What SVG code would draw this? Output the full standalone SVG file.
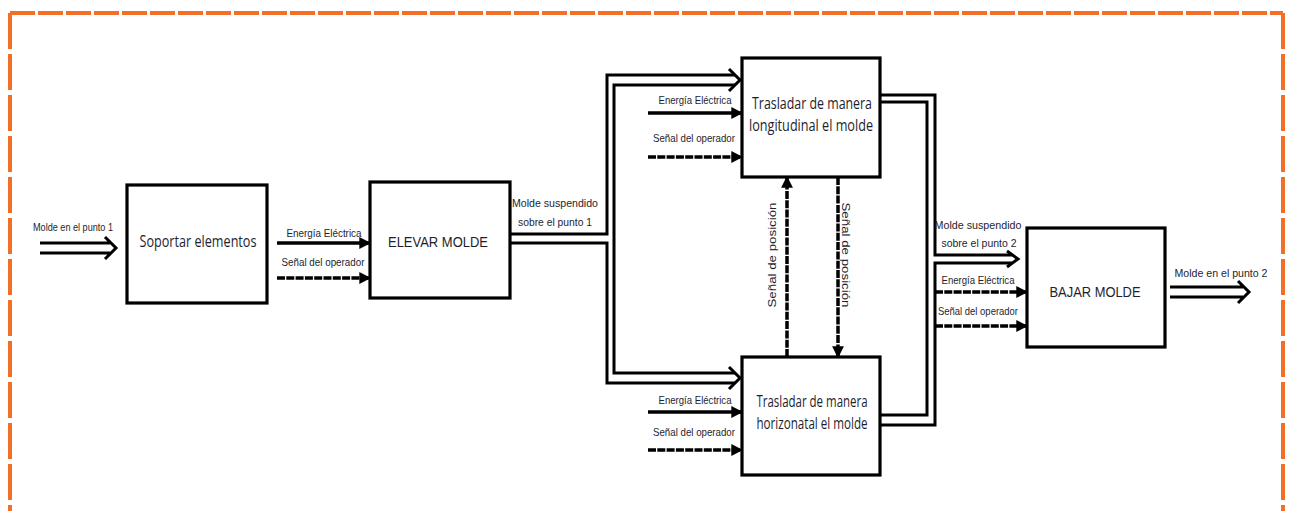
<svg xmlns="http://www.w3.org/2000/svg" width="1290" height="511" viewBox="0 0 1290 511">
  <style>
    .frame { fill: none; stroke: #f26f27; stroke-width: 4; }
    .box { fill: #ffffff; stroke: #000000; stroke-width: 3.2; }
    .dbl { fill: none; stroke: #000000; stroke-width: 3; stroke-linejoin: miter; }
    .solid { fill: none; stroke: #000000; stroke-width: 3.5; }
    .dash { fill: none; stroke: #000000; stroke-width: 3.5; stroke-dasharray: 8 1.3; }
    .lbl { font-family: "Liberation Sans", Arial, sans-serif; font-size: 10.5px; fill: #1e1e2e; }
    .title { font-family: "Liberation Sans", Arial, sans-serif; font-size: 15px; fill: #1e1e2e; }
    .ctitle { font-family: "Open Sans", "Noto Sans", sans-serif; font-size: 15.5px; fill: #1e1e2e; }
  </style>
  <defs>
    <marker id="head" viewBox="0 0 10 10" refX="9" refY="5" markerWidth="3.4" markerHeight="3.4" orient="auto" markerUnits="strokeWidth">
      <path d="M0,0 L10,5 L0,10 Z" fill="#000000"/>
    </marker>
  </defs>

  <!-- dashed orange frame -->
  <g id="frame">
    <path class="frame" d="M10,13 H1283" stroke-dasharray="25 3"/>
    <path class="frame" d="M10,13 V511" stroke-dasharray="36 5"/>
    <path class="frame" d="M1283,13 V511" stroke-dasharray="36 5"/>
  </g>

  <!-- connectors -->
  <g id="connectors">
    <!-- Molde en el punto 1 -->
    <path class="dbl" d="M40,243 H110 M40,253 H110 M105,237 L116,248 L105,259"/>
    <!-- ELEVAR -> branch to both Trasladar blocks -->
    <path class="dbl" d="M510,234 H607 V75 H735"/>
    <path class="dbl" d="M510,243 H607 V383 H735"/>
    <path class="dbl" d="M735,85 H614 V373 H735"/>
    <path class="dbl" d="M729,69 L740,80 L729,91"/>
    <path class="dbl" d="M729,367 L740,378 L729,389"/>
    <!-- Trasladar blocks -> BAJAR MOLDE -->
    <path class="dbl" d="M880,95 H935 V255 H1012"/>
    <path class="dbl" d="M880,102 H927 V415 H880"/>
    <path class="dbl" d="M1012,263 H935 V425 H880"/>
    <path class="dbl" d="M1007,251 L1018,259 L1007,267"/>
    <!-- Molde en el punto 2 -->
    <path class="dbl" d="M1170,287 H1243 M1170,297 H1243 M1238,281 L1249,292 L1238,303"/>

    <!-- inputs to ELEVAR MOLDE -->
    <path class="solid" d="M277,243 H370" marker-end="url(#head)"/>
    <path class="dash" d="M277,278 H370" marker-end="url(#head)"/>
    <!-- inputs to longitudinal block -->
    <path class="solid" d="M648,113 H742" marker-end="url(#head)"/>
    <path class="dash" d="M648,157 H742" marker-end="url(#head)"/>
    <!-- inputs to horizontal block -->
    <path class="solid" d="M648,412 H742" marker-end="url(#head)"/>
    <path class="dash" d="M648,450 H742" marker-end="url(#head)"/>
    <!-- inputs to BAJAR MOLDE -->
    <path class="dash" d="M935,292 H1027" marker-end="url(#head)"/>
    <path class="dash" d="M935,326 H1027" marker-end="url(#head)"/>
    <!-- position signals between the two Trasladar blocks -->
    <path class="dash" d="M787,357 V177" marker-end="url(#head)"/>
    <path class="dash" d="M838,177 V357" marker-end="url(#head)"/>
  </g>

  <!-- connector labels -->
  <g id="labels">
    <text class="lbl" x="73" y="231" text-anchor="middle" textLength="80" lengthAdjust="spacingAndGlyphs">Molde en el punto 1</text>
    <text class="lbl" x="324" y="237" text-anchor="middle" textLength="75" lengthAdjust="spacingAndGlyphs">Energía Eléctrica</text>
    <text class="lbl" x="323" y="266" text-anchor="middle" textLength="83" lengthAdjust="spacingAndGlyphs">Señal del operador</text>
    <text class="lbl" x="555" y="207" text-anchor="middle" textLength="86" lengthAdjust="spacingAndGlyphs">Molde suspendido</text>
    <text class="lbl" x="555" y="226" text-anchor="middle" textLength="74" lengthAdjust="spacingAndGlyphs">sobre el punto 1</text>
    <text class="lbl" x="695" y="104" text-anchor="middle" textLength="73" lengthAdjust="spacingAndGlyphs">Energía Eléctrica</text>
    <text class="lbl" x="694" y="142" text-anchor="middle" textLength="82" lengthAdjust="spacingAndGlyphs">Señal del operador</text>
    <text class="lbl" x="695" y="404" text-anchor="middle" textLength="73" lengthAdjust="spacingAndGlyphs">Energía Eléctrica</text>
    <text class="lbl" x="694" y="436" text-anchor="middle" textLength="82" lengthAdjust="spacingAndGlyphs">Señal del operador</text>
    <text class="lbl" x="978" y="229" text-anchor="middle" textLength="87" lengthAdjust="spacingAndGlyphs">Molde suspendido</text>
    <text class="lbl" x="979" y="247" text-anchor="middle" textLength="75" lengthAdjust="spacingAndGlyphs">sobre el punto 2</text>
    <text class="lbl" x="978" y="284" text-anchor="middle" textLength="73" lengthAdjust="spacingAndGlyphs">Energía Eléctrica</text>
    <text class="lbl" x="978" y="315" text-anchor="middle" textLength="80" lengthAdjust="spacingAndGlyphs">Señal del operador</text>
    <text class="lbl" x="1221" y="277" text-anchor="middle" textLength="93" lengthAdjust="spacingAndGlyphs">Molde en el punto 2</text>
    <text class="lbl" transform="translate(776,255) rotate(-90)" text-anchor="middle" textLength="105" lengthAdjust="spacingAndGlyphs">Señal de posición</text>
    <text class="lbl" transform="translate(842,255) rotate(90)" text-anchor="middle" textLength="105" lengthAdjust="spacingAndGlyphs">Señal de posición</text>
  </g>

  <!-- blocks -->
  <g id="soportar">
    <rect class="box" x="127" y="185" width="140" height="118"/>
    <text class="ctitle" x="198" y="247" text-anchor="middle" textLength="117" lengthAdjust="spacingAndGlyphs">Soportar elementos</text>
  </g>
  <g id="elevar">
    <rect class="box" x="370" y="182" width="140" height="116"/>
    <text class="title" x="438" y="247" text-anchor="middle" textLength="100" lengthAdjust="spacingAndGlyphs">ELEVAR MOLDE</text>
  </g>
  <g id="trasladar-longitudinal">
    <rect class="box" x="742" y="58" width="138" height="119"/>
    <text class="ctitle" x="812" y="109" text-anchor="middle" textLength="120" lengthAdjust="spacingAndGlyphs">Trasladar de manera</text>
    <text class="ctitle" x="811" y="131" text-anchor="middle" textLength="124" lengthAdjust="spacingAndGlyphs">longitudinal el molde</text>
  </g>
  <g id="trasladar-horizontal">
    <rect class="box" x="742" y="357" width="138" height="118"/>
    <text class="ctitle" x="812" y="407" text-anchor="middle" textLength="111" lengthAdjust="spacingAndGlyphs">Trasladar de manera</text>
    <text class="ctitle" x="812" y="429" text-anchor="middle" textLength="111" lengthAdjust="spacingAndGlyphs">horizonatal el molde</text>
  </g>
  <g id="bajar">
    <rect class="box" x="1027" y="228" width="138" height="119"/>
    <text class="title" x="1095" y="297" text-anchor="middle" textLength="91" lengthAdjust="spacingAndGlyphs">BAJAR MOLDE</text>
  </g>
</svg>
